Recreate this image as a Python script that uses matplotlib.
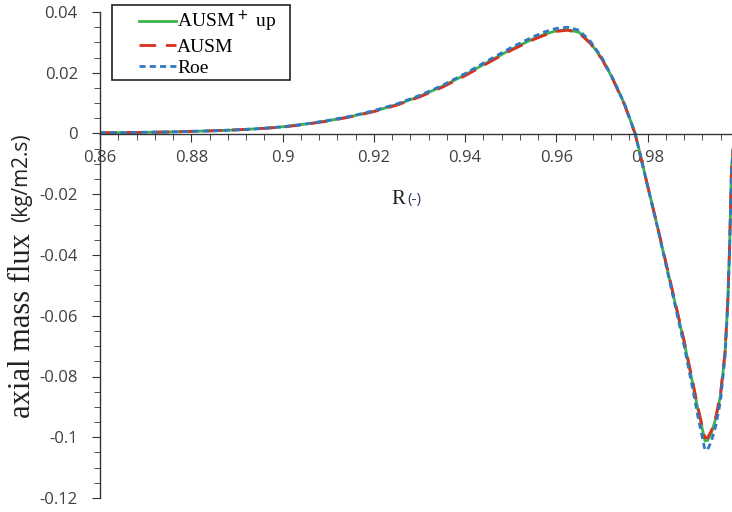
import matplotlib
matplotlib.use("Agg")
from matplotlib import pyplot as plt
from matplotlib.patches import Rectangle
from matplotlib.ticker import MultipleLocator, FuncFormatter

# radial position R (-)
r_vals = [0.860, 0.865, 0.870, 0.875, 0.880, 0.885, 0.890, 0.895, 0.900, 0.905,
          0.910, 0.915, 0.920, 0.925, 0.930, 0.935, 0.940, 0.945, 0.950, 0.955,
          0.9575, 0.960, 0.9625, 0.965, 0.9675, 0.970, 0.9725, 0.975, 0.9773, 0.980,
          0.982, 0.984, 0.986, 0.988, 0.990, 0.991, 0.992, 0.9926, 0.9932, 0.994,
          0.995, 0.996, 0.997, 0.9976, 0.998, 0.9984, 0.9990]

ausm_plus_up = [0.0002, 0.0003, 0.0004, 0.0005, 0.0007, 0.0009, 0.0012, 0.0016, 0.0022, 0.0031,
                0.0042, 0.0056, 0.0073, 0.0095, 0.0122, 0.0155, 0.0193, 0.0235, 0.0276, 0.0312,
                0.0327, 0.0338, 0.0342, 0.0333, 0.0298, 0.0247, 0.0177, 0.0095, 0.0000, -0.0170,
                -0.0295, -0.0425, -0.0555, -0.0685, -0.0830, -0.0905, -0.0972, -0.1012, -0.1010, -0.0985,
                -0.0937, -0.0862, -0.0722, -0.0552, -0.0372, -0.0120, 0.0000]

ausm = [0.0002, 0.0003, 0.0004, 0.0005, 0.0007, 0.0009, 0.0012, 0.0016, 0.0021, 0.0030,
        0.0041, 0.0055, 0.0072, 0.0093, 0.0120, 0.0152, 0.0190, 0.0232, 0.0273, 0.0309,
        0.0324, 0.0336, 0.0340, 0.0331, 0.0296, 0.0245, 0.0175, 0.0093, -0.0002, -0.0171,
        -0.0294, -0.0422, -0.0551, -0.0680, -0.0824, -0.0898, -0.0963, -0.1002, -0.1001, -0.0978,
        -0.0931, -0.0857, -0.0718, -0.0549, -0.0370, -0.0119, 0.0000]

roe = [0.0002, 0.0003, 0.0004, 0.0005, 0.0007, 0.0009, 0.0012, 0.0016, 0.0022, 0.0031,
       0.0043, 0.0057, 0.0075, 0.0097, 0.0125, 0.0158, 0.0197, 0.0240, 0.0282, 0.0319,
       0.0335, 0.0346, 0.0350, 0.0340, 0.0303, 0.0250, 0.0179, 0.0096, 0.0000, -0.0172,
       -0.0298, -0.0430, -0.0563, -0.0697, -0.0848, -0.0928, -0.0999, -0.1042, -0.1040, -0.1013,
       -0.0960, -0.0880, -0.0735, -0.0562, -0.0378, -0.0122, 0.0000]

x_min, x_max = 0.86, 0.99852
y_min, y_max = -0.12, 0.04

fig = plt.figure(figsize=(7.32, 5.12), dpi=100)
ax = fig.add_axes([100 / 732, 1 - 498 / 512, 1 - 100 / 732, (498 - 12) / 512])

ax.plot(r_vals, ausm_plus_up, color='#3cb44b', lw=2.0, ls='-', label='AUSM$^+$ up')
ax.plot(r_vals, ausm, color='#d9301f', lw=2.0, ls=(0, (6, 3.5)), label='AUSM')
ax.plot(r_vals, roe, color='#2f78c8', lw=2.0, ls=(0, (2.2, 1.5)), label='Roe')

ax.set_xlim(x_min, x_max)
ax.set_ylim(y_min, y_max)

ax.spines['top'].set_visible(False)
ax.spines['right'].set_visible(False)
ax.spines['bottom'].set_position(('data', 0))
for s in ('left', 'bottom'):
    ax.spines[s].set_color('#333333')
    ax.spines[s].set_linewidth(1.0)

ax.xaxis.set_major_locator(MultipleLocator(0.02))
ax.xaxis.set_minor_locator(MultipleLocator(0.004))
ax.yaxis.set_major_locator(MultipleLocator(0.02))
ax.yaxis.set_minor_locator(MultipleLocator(0.005))

fmt = FuncFormatter(lambda v, p: '0' if abs(v) < 1e-9 else ('%g' % round(v, 4)))
ax.xaxis.set_major_formatter(fmt)
ax.yaxis.set_major_formatter(fmt)

ax.tick_params(which='both', direction='out', color='#333333')
ax.tick_params(which='major', length=6, labelsize=12, labelcolor='#404040')
ax.tick_params(which='minor', length=4)
ax.tick_params(axis='y', pad=10)
ax.tick_params(axis='x', pad=6)
for lab in ax.get_xticklabels() + ax.get_yticklabels():
    lab.set_fontfamily('Open Sans')

# axis titles
fig.text(23 / 732, 1 - 418 / 512, 'axial mass flux', rotation=90, ha='center', va='bottom',
         family='Liberation Serif', fontsize=22, color='#222222')
fig.text(22 / 732, 1 - 222 / 512, '(kg/m2.s)', rotation=90, ha='center', va='bottom',
         family='Open Sans', fontsize=15, color='#222222')
fig.text(405 / 732, 1 - 200 / 512, 'R', ha='right', va='center',
         family='Liberation Serif', fontsize=15, color='#222222')
fig.text(407 / 732, 1 - 200 / 512, '(-)', ha='left', va='center',
         family='Open Sans', fontsize=11, color='#2f3f5f')

# legend with a separate square frame
leg = ax.legend(loc='upper left', bbox_to_anchor=(139 / 732, 1 - 9 / 512),
                bbox_transform=fig.transFigure, frameon=False,
                prop={'family': 'Liberation Serif', 'size': 14},
                handlelength=1.9, handletextpad=0.05, borderpad=0, labelspacing=0.2,
                borderaxespad=0)
fig.add_artist(Rectangle((112 / 732, 1 - 80 / 512), 178 / 732, 75 / 512,
                         transform=fig.transFigure, fill=False,
                         edgecolor='#222222', linewidth=1.2))

fig.savefig('out.png', dpi=100)
